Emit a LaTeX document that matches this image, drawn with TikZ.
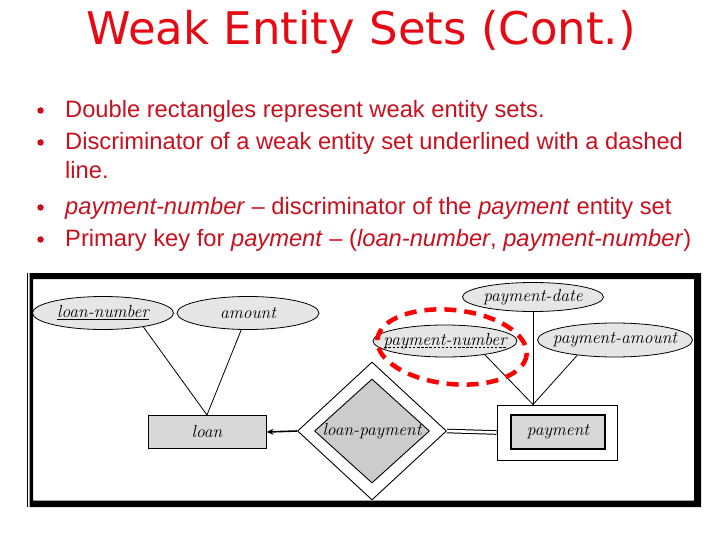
\documentclass[tikz,border=0pt]{standalone}
\usepackage{fontspec}
\usetikzlibrary{shapes.geometric, arrows.meta}
\newfontfamily\titlefont{DejaVu Sans}
\newfontfamily\slidefont{Liberation Sans}
\definecolor{titlered}{RGB}{230,10,20}
\definecolor{textred}{RGB}{200,16,30}
\definecolor{attrgray}{RGB}{230,230,230}
\definecolor{entgray}{RGB}{216,216,216}
\definecolor{relgray}{RGB}{204,204,204}
% label that does not widen its shape
\newcommand{\lbl}[1]{\makebox[0pt]{#1}}
% dashed underline for the discriminator
\newcommand{\dashunder}[1]{\setbox0\hbox{#1}\rlap{\copy0}\raisebox{-2.5pt}{\hbox to \wd0{\xleaders\hbox to 4pt{\hss\vrule width 2.4pt height 0.6pt\hss}\hfill}}}

\begin{document}
\begin{tikzpicture}[x=1pt, y=-1pt,
  attr/.style={ellipse, draw, line width=0.8pt, fill=attrgray, inner sep=0pt, font=\fontsize{17.5}{19}\selectfont\itshape},
  entity/.style={rectangle, draw, line width=1pt, fill=entgray, inner sep=0pt, font=\fontsize{17.5}{19}\selectfont\itshape},
  rel/.style={diamond, draw, line width=0.9pt, inner sep=0pt, font=\fontsize{17.5}{19}\selectfont\itshape},
  bulletline/.style={anchor=base west, inner sep=0pt, font=\slidefont\fontsize{23.7}{28}\selectfont, text=textred},
  dot/.style={circle, fill=textred, inner sep=0pt, minimum size=6.5pt},
  link/.style={line width=0.8pt}]
  \useasboundingbox[fill=white] (0,0) rectangle (720,540);

  % title and bullets
  \node[font=\titlefont\fontsize{45}{50}\selectfont, text=titlered, anchor=base] (title) at (361,44.5) {Weak Entity Sets (Cont.)};
  \node[dot] (d1) at (40.5,110.5) {};
  \node[bulletline] (b1) at (65,117.5) {Double rectangles represent weak entity sets.};
  \node[dot] (d2) at (40.5,142.5) {};
  \node[bulletline] (b2) at (65,149.5) {Discriminator of a weak entity set underlined with a dashed};
  \node[bulletline] (b2a) at (65,178.5) {line.};
  \node[dot] (d3) at (40.5,207.5) {};
  \node[bulletline] (b3) at (65,214.5) {\textit{payment-number} – discriminator of the \textit{payment} entity set};
  \node[dot] (d4) at (40.5,239.5) {};
  \node[bulletline] (b4) at (65,246.5) {Primary key for \textit{payment} – (\textit{loan-number}, \textit{payment-number})};

  % frame round the diagram
  \fill[black, even odd rule] (29.5,273) rectangle (701,507) (33,279) rectangle (694,500.5);
  \draw[line width=1.2pt] (27.5,273) -- (27.5,507);

  % strong entity set
  \node[attr, minimum width=141, minimum height=33] (ln) at (103,313) {\lbl{\underline{loan-number}}};
  \node[attr, minimum width=142, minimum height=33] (amt) at (248,313) {\lbl{amount}};
  \node[entity, minimum width=118, minimum height=33] (loan) at (207,432) {loan};
  \draw[link] (ln.-19) -- (loan.north);
  \draw[link] (amt.-112) -- (loan.north);

  % identifying relationship
  \node[rel, fill=white, minimum width=149, minimum height=138] (lp-out) at (372,431) {};
  \node[rel, fill=relgray, minimum width=115, minimum height=104] (lp) at (372,431) {\lbl{loan-payment}};
  \draw[line width=1.6pt, -{Stealth[length=7pt, width=6pt]}] (lp-out.west) -- (loan.east);

  % weak entity set
  \node[rectangle, draw, line width=1pt, fill=white, minimum width=120, minimum height=55] (pay-out) at (557,432.5) {};
  \node[entity, line width=1.4pt, minimum width=94, minimum height=34] (pay) at (558,432) {payment};
  \draw[line width=1pt, double, double distance=2.6pt] (lp-out.east) -- (pay-out.west);
  \coordinate (meet) at ([xshift=-24pt]pay-out.north);
  \node[attr, minimum width=141, minimum height=29] (pd) at (533,297) {\lbl{payment-date}};
  \node[attr, minimum width=144, minimum height=32] (pn) at (445,341) {\lbl{\dashunder{payment-number}}};
  \node[attr, minimum width=155, minimum height=34] (pa) at (615,340) {\lbl{payment-amount}};
  \draw[link] (pd.south) -- (meet);
  \draw[link] (pn.-19) -- (meet);
  \draw[link] (pa.-158) -- (meet);

  % discriminator marked in red
  \draw[red, line width=4.5pt, dash pattern=on 12pt off 8pt, rotate around={-6:(452,347)}] (452,347) ellipse [x radius=75, y radius=37];
\end{tikzpicture}
\end{document}
